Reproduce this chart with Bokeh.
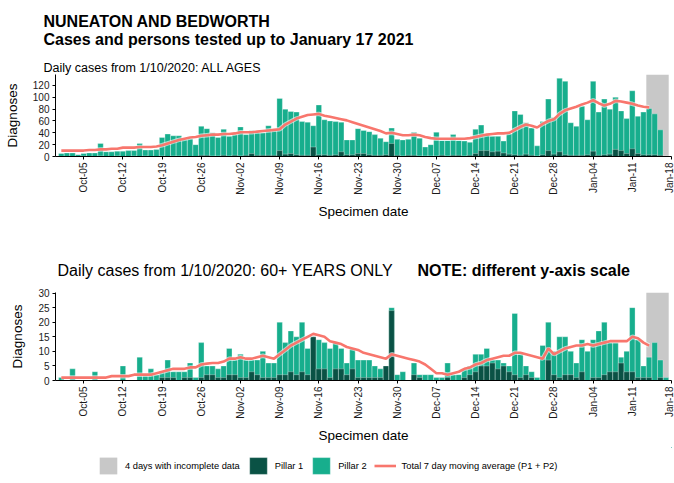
import math
import pandas as pd
from bokeh.plotting import figure
from bokeh.models import (ColumnDataSource, Range1d, FixedTicker, DatetimeTickFormatter,
                          Label, Legend, LegendItem, Title)
from bokeh.layouts import column
from bokeh.embed import file_html
from bokeh.resources import INLINE

FONT = "Liberation Sans"

# ---------------- data ----------------
dates = pd.date_range("2020-10-01", "2021-01-17", freq="D")          # 109 specimen dates
ma_dates = pd.date_range("2020-10-01", "2021-01-14", freq="D")       # moving-average dates
incomplete_dates = pd.date_range("2021-01-14", "2021-01-17", freq="D")
tick_dates = pd.to_datetime(["2020-10-05", "2020-10-12", "2020-10-19", "2020-10-26",
                             "2020-11-02", "2020-11-09", "2020-11-16", "2020-11-23",
                             "2020-11-30", "2020-12-07", "2020-12-14", "2020-12-21",
                             "2020-12-28", "2021-01-04", "2021-01-11", "2021-01-18"])

# ALL AGES: total daily cases (P1 + P2) and Pillar 1 cases
total_all = [5, 6, 6, 3, 5, 6, 6, 22, 8, 8, 9, 9, 10, 10, 22, 11, 11, 12, 32, 38, 35, 35, 29, 30, 20, 51, 47, 40, 32, 46, 34,
             37, 50, 37, 44, 40, 40, 52, 43, 98, 80, 76, 75, 59, 58, 52, 87, 62, 60, 59, 58, 28, 28, 47, 44, 42, 37, 31, 25, 48, 29,
             28, 29, 41, 31, 16, 20, 41, 27, 27, 37, 27, 26, 24, 46, 53, 36, 34, 34, 26, 38, 77, 71, 57, 48, 18, 59, 97, 66, 132, 127, 57,
             51, 85, 62, 127, 75, 97, 80, 100, 77, 64, 111, 68, 75, 81, 72, 45, 1]
pillar1_all = [0, 0, 0, 0, 1, 0, 0, 1, 0, 0, 1, 0, 0, 1, 0, 1, 0, 0, 1, 0, 1, 1, 1, 0, 0, 2, 2, 1, 1, 2, 1,
               2, 1, 2, 5, 2, 2, 2, 2, 10, 4, 5, 3, 2, 2, 16, 3, 3, 2, 3, 8, 3, 3, 5, 5, 3, 2, 2, 3, 22, 2,
               1, 2, 2, 1, 1, 1, 1, 2, 1, 2, 2, 1, 2, 5, 10, 10, 8, 9, 6, 4, 3, 2, 4, 2, 1, 3, 10, 4, 8, 3, 2,
               2, 2, 3, 9, 2, 3, 4, 12, 10, 5, 13, 5, 3, 3, 3, 2, 0]
ma_all = [10, 10, 10, 10, 10, 11, 11, 12, 12, 13, 13, 15, 15, 15, 16, 16, 16, 17, 19, 22, 25, 28, 30, 32, 33, 35, 36, 37, 37, 38, 38,
          39, 41, 41, 41, 42, 43, 44, 45, 46, 54, 59, 64, 67, 70, 71, 72, 69, 67, 65, 63, 61, 58, 55, 52, 49, 46, 43, 39, 40, 38,
          36, 36, 37, 36, 33, 31, 30, 30, 30, 30, 30, 30, 31, 33, 35, 37, 38, 39, 39, 40, 45, 50, 54, 52, 49, 55, 60, 63, 72, 78, 81,
          84, 88, 91, 95, 90, 86, 89, 94, 93, 91, 89, 86, 84, 83]

# 60+ YEARS ONLY
total_60 = [1, 0, 4, 0, 0, 0, 3, 0, 0, 0, 0, 5, 0, 0, 8, 2, 4, 2, 3, 7, 3, 3, 3, 6, 1, 13, 5, 5, 4, 5, 11,
            7, 9, 7, 7, 7, 10, 6, 6, 20, 13, 17, 15, 20, 11, 15, 14, 13, 11, 13, 11, 6, 11, 7, 7, 7, 5, 4, 5, 25, 2,
            3, 0, 6, 2, 2, 2, 1, 1, 6, 2, 2, 4, 5, 9, 9, 11, 7, 7, 6, 5, 23, 9, 5, 3, 1, 12, 20, 10, 15, 15, 10,
            6, 14, 10, 14, 17, 20, 13, 13, 8, 10, 25, 14, 5, 8, 13, 7, 1]
pillar1_60 = [0, 0, 0, 0, 0, 0, 0, 0, 0, 0, 0, 0, 0, 0, 0, 0, 0, 0, 1, 1, 1, 0, 1, 1, 0, 1, 2, 2, 1, 1, 2,
              2, 1, 1, 3, 2, 1, 1, 1, 2, 2, 3, 2, 3, 2, 15, 4, 4, 1, 4, 4, 2, 4, 1, 1, 1, 1, 1, 5, 24, 0,
              0, 0, 2, 1, 0, 0, 0, 0, 1, 0, 0, 1, 2, 3, 5, 5, 6, 4, 5, 3, 2, 1, 2, 1, 0, 0, 7, 2, 1, 2, 2,
              1, 3, 0, 1, 1, 2, 3, 3, 6, 3, 3, 1, 1, 1, 0, 1, 0]
ma_60 = [1, 1, 1, 1, 1, 1, 1, 1, 1, 1.5, 1.5, 1.5, 1.5, 2, 2, 2, 2, 2.5, 3, 3.5, 4, 4, 4, 4.5, 4.5, 5.5, 5.8, 6, 6, 6.5, 7.5,
         7.5, 8, 7.5, 7.5, 8, 8.5, 8, 7.5, 9, 10.5, 12, 13, 14, 15, 16, 15.5, 15, 13.5, 13, 12.5, 11.5, 11, 10.5, 9.5, 9, 8.5, 8, 7.5, 9, 8.5,
         8, 7.5, 7, 6.5, 5.5, 4, 2.5, 2.5, 2, 2.5, 3, 4, 4.5, 5.5, 6, 7, 7.5, 8, 8.5, 8.5, 9.5, 9.5, 9, 8.5, 8, 7.5, 11, 9, 10, 11, 11.5,
         12, 12, 12.5, 12, 12.5, 13, 13.5, 13.5, 13.5, 13.5, 15, 14.5, 13, 12]

y_ticks_all = [0, 20, 40, 60, 80, 100, 120]
y_ticks_60 = [0, 5, 10, 15, 20, 25, 30]
ymax_all = 138.5
ymax_60 = 30.2

# ---------------- style ----------------
C_P2 = "#17AE8D"
C_P1 = "#0A5245"
C_GREY = "#C8C8C8"
C_LINE = "#F8766D"
DAY = pd.Timedelta(days=1)
DAY_MS = 86400000
W = 674
LEFT, RIGHT = 55, 3          # borders shared by every figure of the column


def strip(height, y_top):
    """Blank figure used to hold text; data coords = page pixels."""
    f = figure(width=W, height=height, x_range=Range1d(LEFT, W - RIGHT),
               y_range=Range1d(y_top + height, y_top),
               toolbar_location=None, output_backend="svg",
               min_border_left=LEFT, min_border_right=RIGHT, min_border_top=0, min_border_bottom=0,
               x_axis_location=None, y_axis_location=None)
    f.outline_line_color = None
    f.xgrid.visible = False
    f.ygrid.visible = False
    return f


def make_panel(height, top_border, bottom_border, total, p1, ma, ymax, yticks):
    x_start = dates[0] - pd.Timedelta(hours=25)
    x_end = tick_dates[-1]
    p = figure(width=W, height=height, x_axis_type="datetime",
               x_range=Range1d(x_start, x_end), y_range=Range1d(0, ymax),
               toolbar_location=None, output_backend="svg",
               min_border_left=LEFT, min_border_right=RIGHT,
               min_border_top=top_border, min_border_bottom=bottom_border)
    p.outline_line_color = None
    p.xgrid.visible = False
    p.ygrid.visible = False

    grey_src = ColumnDataSource(dict(left=[incomplete_dates[0] - DAY / 2],
                                     right=[incomplete_dates[-1] + DAY / 2],
                                     top=[ymax], bottom=[0]))
    p.quad(left="left", right="right", top="top", bottom="bottom", source=grey_src,
           fill_color=C_GREY, line_color=None)

    src = ColumnDataSource(dict(date=dates, total=total, p1=p1))
    p.vbar(x="date", top="total", bottom=0, width=DAY_MS * 0.98, source=src,
           fill_color=C_P2, line_color="white", line_width=0.6, line_alpha=0.5)
    p.vbar(x="date", top="p1", bottom=0, width=DAY_MS * 0.98, source=src,
           fill_color=C_P1, line_color="white", line_width=0.6, line_alpha=0.5)

    msrc = ColumnDataSource(dict(date=ma_dates, ma=ma))
    p.line(x="date", y="ma", source=msrc, line_color="white", line_width=4.5, line_alpha=0.6)
    p.line(x="date", y="ma", source=msrc, line_color=C_LINE, line_width=2.6)

    p.xaxis.ticker = FixedTicker(ticks=[t.value // 10**6 for t in tick_dates])
    p.xaxis.formatter = DatetimeTickFormatter(days="%b-%d", months="%b-%d", years="%b-%d",
                                              hours="%b-%d", minutes="%b-%d")
    p.xaxis.major_label_orientation = math.pi / 2
    p.yaxis.ticker = FixedTicker(ticks=yticks)
    for ax in (p.xaxis[0], p.yaxis[0]):
        ax.axis_line_color = "black"
        ax.axis_line_width = 1
        ax.major_tick_line_color = "black"
        ax.major_tick_out = 3
        ax.major_tick_in = 0
        ax.minor_tick_line_color = None
        ax.major_label_text_font = FONT
        ax.major_label_text_font_size = "10px"
        ax.major_label_text_color = "#1a1a1a"
        ax.major_label_standoff = 3
        ax.axis_label_text_font = FONT
        ax.axis_label_text_font_size = "13.5px"
        ax.axis_label_text_font_style = "normal"
        ax.axis_label_text_color = "black"
    p.xaxis.axis_label = "Specimen date"
    p.xaxis.axis_label_standoff = 6
    p.yaxis.axis_label = "Diagnoses"
    p.yaxis.axis_label_standoff = 10
    return p, grey_src, src, msrc


# ---------------- top panel (0..222), header as stacked titles ----------------
p_top, _, _, _ = make_panel(222, 67, 66, total_all, pillar1_all, ma_all, ymax_all, y_ticks_all)
p_top.add_layout(Title(text="Daily cases from 1/10/2020: ALL AGES", align="left", offset=-12,
                       standoff=0, vertical_align="bottom", text_font=FONT,
                       text_font_size="12.5px", text_font_style="normal", text_color="black"),
                 "above")
p_top.add_layout(Title(text="NUNEATON AND BEDWORTH\nCases and persons tested up to January 17 2021",
                       align="left", offset=-12, standoff=21, vertical_align="bottom",
                       text_font=FONT, text_font_size="16px", text_font_style="bold",
                       text_line_height=1.06, text_color="black"),
                 "above")

# ---------------- sub-header strip (222..287) ----------------
head2 = strip(65, 222)
head2.add_layout(Label(x=57, y=270, text="Daily cases from 1/10/2020: 60+ YEARS ONLY",
                       text_font=FONT, text_font_size="16px", text_color="black",
                       text_baseline="alphabetic"))
head2.add_layout(Label(x=417, y=270, text="NOTE: different y-axis scale",
                       text_font=FONT, text_font_size="16px", text_font_style="bold",
                       text_color="black", text_baseline="alphabetic"))

# ---------------- bottom panel (287..447) ----------------
p_bot, grey_src_b, src_b, msrc_b = make_panel(160, 5, 67, total_60, pillar1_60, ma_60, ymax_60, y_ticks_60)

# ---------------- legend strip (447..481) ----------------
leg = strip(34, 447)
k_grey = leg.quad(left="left", right="right", top="top", bottom="bottom", source=grey_src_b,
                  fill_color=C_GREY, line_color=None)
k_p1 = leg.vbar(x="date", top="p1", bottom=0, width=DAY_MS * 0.98, source=src_b,
                fill_color=C_P1, line_color="white", line_width=0.6, line_alpha=0.5)
k_p2 = leg.vbar(x="date", top="total", bottom=0, width=DAY_MS * 0.98, source=src_b,
                fill_color=C_P2, line_color="white", line_width=0.6, line_alpha=0.5)
k_ma = leg.line(x="date", y="ma", source=msrc_b, line_color=C_LINE, line_width=2.6)
legend = Legend(items=[LegendItem(label="4 days with incomplete data", renderers=[k_grey]),
                       LegendItem(label="Pillar 1", renderers=[k_p1]),
                       LegendItem(label="Pillar 2", renderers=[k_p2]),
                       LegendItem(label="Total 7 day moving average (P1 + P2)", renderers=[k_ma])],
                location=(97 - LEFT, 5), orientation="horizontal",
                glyph_width=22, glyph_height=21, label_height=21, label_standoff=6, spacing=7,
                padding=0, margin=0, border_line_color=None, background_fill_alpha=0,
                label_text_font=FONT, label_text_font_size="9.3px", label_text_color="black")
leg.add_layout(legend)

layout = column(p_top, head2, p_bot, leg, spacing=0)
open("out.html", "w").write(file_html(layout, INLINE))
